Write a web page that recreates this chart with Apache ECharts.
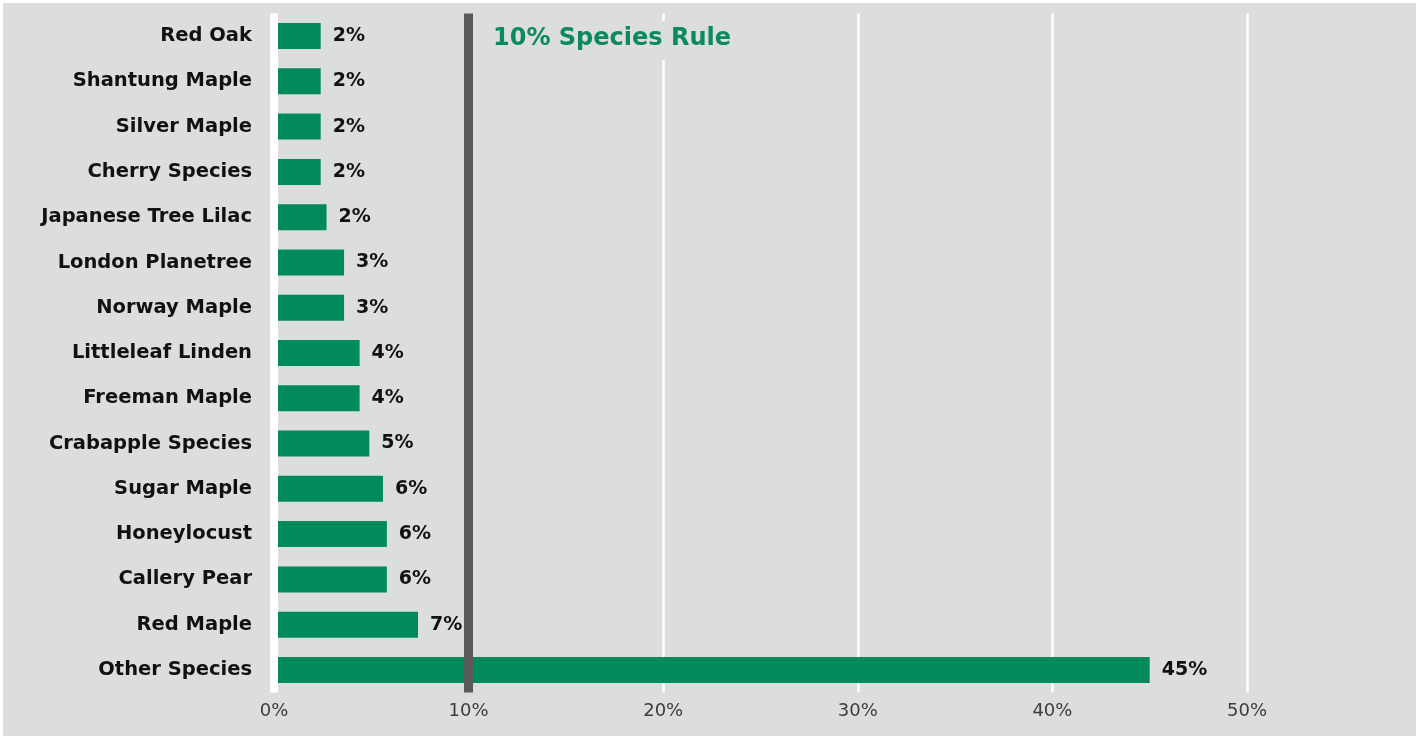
<!DOCTYPE html>
<html>
<head>
<meta charset="utf-8">
<script src="https://cdn.jsdelivr.net/npm/echarts@6/dist/echarts.min.js"></script>
<style>
html,body{margin:0;padding:0;background:#ffffff;width:1416px;height:736px;overflow:hidden;}
#chart{position:absolute;left:3px;top:3px;width:1413px;height:733px;background:#dcdddf;}
</style>
</head>
<body>
<div id="chart"></div>
<script>
const categories = ["Red Oak","Shantung Maple","Silver Maple","Cherry Species","Japanese Tree Lilac","London Planetree","Norway Maple","Littleleaf Linden","Freeman Maple","Crabapple Species","Sugar Maple","Honeylocust","Callery Pear","Red Maple","Other Species"];
const values = [2.4,2.4,2.4,2.4,2.7,3.6,3.6,4.4,4.4,4.9,5.6,5.8,5.8,7.4,45.0];
const valueLabels = ["2%","2%","2%","2%","2%","3%","3%","4%","4%","5%","6%","6%","6%","7%","45%"];
const ruleValue = 10;
const ruleText = "10% Species Rule";
const xTicks = [0,10,20,30,40,50];

const chart = echarts.init(document.getElementById('chart'));
chart.setOption({
  backgroundColor: '#dcdddf',
  animation: false,
  title: {
    text: ruleText,
    left: 476, top: 18,
    padding: [6,14,9,14],
    backgroundColor: '#dcdddf',
    textStyle: {color:'#0b8a5b', fontFamily:'DejaVu Sans', fontWeight:'bold', fontSize:24}
  },
  grid: {left: 271, right: 169, top: 10.4, bottom: 43.4},
  xAxis: {
    type: 'value', min: xTicks[0], max: xTicks[xTicks.length-1], interval: 10,
    axisLine: {show:false}, axisTick: {show:false},
    splitLine: {show:true, lineStyle:{color:'#ffffff', width:2.5}},
    axisLabel: {formatter: '{value}%', color:'#3b3c3e', fontFamily:'DejaVu Sans', fontSize:18, margin:10}
  },
  yAxis: {
    type: 'category', data: categories, inverse: true, z: 3,
    axisLine: {show:true, lineStyle:{color:'#ffffff', width:8, cap:'butt'}},
    axisTick: {show:false},
    axisLabel: {color:'#111111', fontFamily:'DejaVu Sans', fontWeight:'bold', fontSize:19.5, margin:22, padding:[4,0,0,0]}
  },
  series: [{
    type: 'bar', data: values, barWidth: 26,
    itemStyle: {color:'#008a5e'},
    label: {show:true, position:'right', distance:12, color:'#111111', fontFamily:'DejaVu Sans', fontWeight:'bold', fontSize:19,
      formatter: p => valueLabels[p.dataIndex]},
    markLine: {
      silent: true, symbol: 'none', label: {show:false},
      lineStyle: {color:'#58595b', width:9, type:'solid', cap:'butt'},
      data: [{xAxis: ruleValue}]
    }
  }]
});
</script>
</body>
</html>
